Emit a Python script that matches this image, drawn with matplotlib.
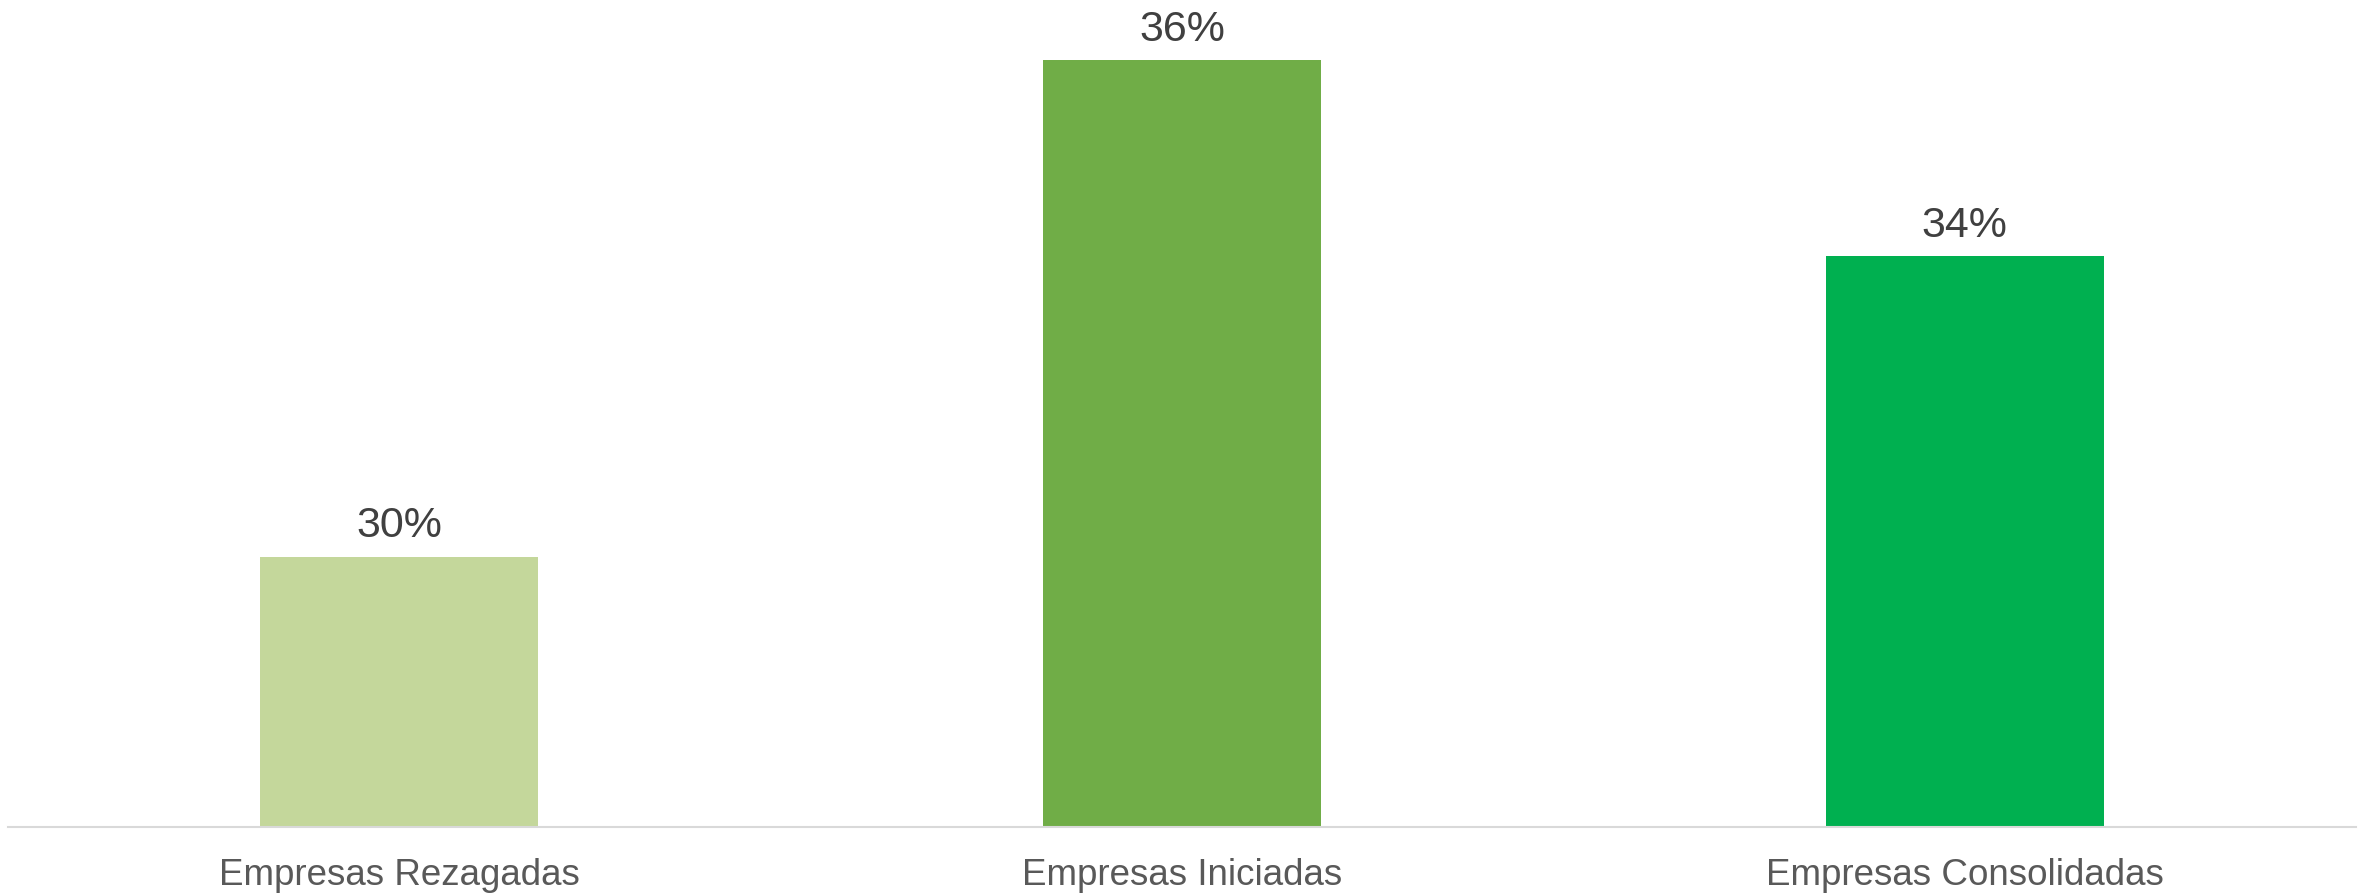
import matplotlib.pyplot as plt

# Share of companies per maturity group
categories = ["Empresas Rezagadas", "Empresas Iniciadas", "Empresas Consolidadas"]
shares = [0.301, 0.358, 0.3355]
colors = ["#C4D79B", "#70AD47", "#00B050"]

plt.rcParams["font.family"] = ["Liberation Sans", "DejaVu Sans"]

fig = plt.figure(figsize=(23.64, 8.94), dpi=100)
ax = fig.add_axes([8 / 2364, 67 / 894, 2348 / 2364, 827 / 894])

x = range(len(categories))
bars = ax.bar(x, shares, width=0.355, color=colors, zorder=2)

ax.set_xlim(-0.5, 2.5)
ax.set_ylim(0.27, 0.3649)

for rect, val in zip(bars, shares):
    ax.annotate(f"{val:.0%}", (rect.get_x() + rect.get_width() / 2, val),
                xytext=(0, 7.5), textcoords="offset points",
                ha="center", va="bottom", fontsize=31, color="#404040")

ax.set_xticks(list(x))
ax.set_xticklabels(categories, fontsize=26.5, color="#595959")
ax.tick_params(axis="x", length=0, pad=22)
ax.set_yticks([])

for side in ("top", "left", "right"):
    ax.spines[side].set_visible(False)
ax.spines["bottom"].set_color("#D9D9D9")
ax.spines["bottom"].set_linewidth(1.5)
ax.spines["bottom"].set_zorder(3)

fig.savefig("out.png", dpi=100)
